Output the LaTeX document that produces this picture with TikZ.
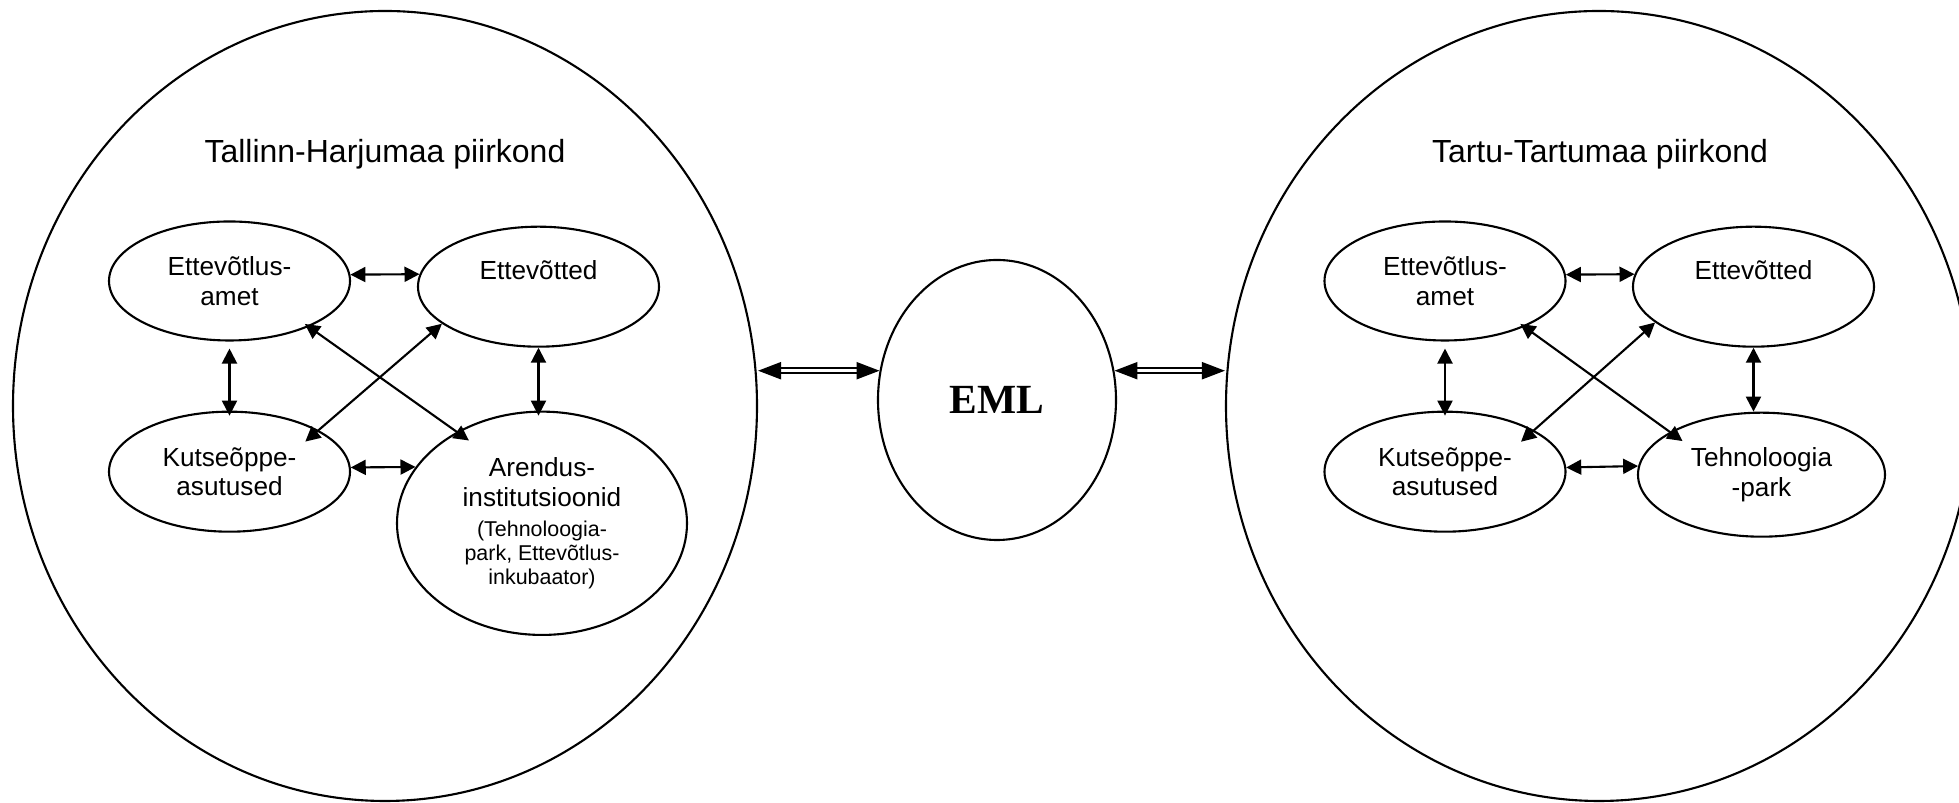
\documentclass[tikz,border=0pt]{standalone}
\usepackage{fontspec}
\setmainfont{Liberation Sans}
\newfontfamily\emlfont{Liberation Serif}
\usetikzlibrary{shapes.geometric,arrows.meta}
\newcommand{\orgnode}[4][]{\node[ellipse,draw,line width=0.6pt,inner sep=0pt,align=center,minimum width=2.41cm,minimum height=1.2cm,font=\fontsize{7.45}{8.5}\selectfont,#1] at (#2) (#3) {#4}}
\newcommand{\smalltext}{\fontsize{6.1}{7}\selectfont}

\begin{document}
\begin{tikzpicture}[
	biarrow/.style={{Triangle[length=1.5mm,width=1.5mm]}-{Triangle[length=1.5mm,width=1.5mm]},line width=0.6pt},
	dblarrow/.style={{Triangle[length=2.3mm,width=1.7mm]}-{Triangle[length=2.3mm,width=1.7mm]},line width=0.6pt,double,double distance=0.9pt},
	region/.style={ellipse,draw,line width=0.6pt,inner sep=0pt,minimum width=7.44cm,minimum height=7.9cm},
	title/.style={font=\fontsize{9.1}{11}\selectfont}]
	\useasboundingbox (0,0) rectangle (19.59,8.03);
	\clip (0,0) rectangle (19.59,8.03);
	
	\node[region] at (3.85,3.97) (tallinn) {};
	\node[region,minimum width=7.46cm] at (15.99,3.97) (tartu) {};
	\node[ellipse,draw,line width=0.6pt,inner sep=0pt,minimum width=2.38cm,minimum height=2.8cm,font=\emlfont\bfseries\fontsize{11.8}{14}\selectfont] at (9.97,4.03) (eml) {EML};
	
	\node[title] at (3.85,6.49) (tallinntitle) {Tallinn-Harjumaa piirkond};
	\node[title] at (16.00,6.49) (tartutitle) {Tartu-Tartumaa piirkond};
	
	\orgnode[minimum height=1.19cm]{2.295,5.22}{amet1}{Ettevõtlus-\\amet};
	\orgnode{5.385,5.163}{firm1}{Ettevõtted\\[1pt]~};
	\orgnode{2.295,3.313}{kool1}{Kutseõppe-\\asutused};
	\orgnode[minimum width=2.9cm,minimum height=2.233cm]{5.42,2.797}{arendus1}{Arendus-\\institutsioonid\\{\smalltext (Tehnoloogia-}\\[-1.7pt]{\smalltext park, Ettevõtlus-}\\[-1.7pt]{\smalltext inkubaator)}};
	
	\orgnode[minimum height=1.19cm]{14.45,5.22}{amet2}{Ettevõtlus-\\amet};
	\orgnode{17.535,5.163}{firm2}{Ettevõtted\\[1pt]~};
	\orgnode{14.45,3.313}{kool2}{Kutseõppe-\\asutused};
	\orgnode[minimum width=2.47cm,minimum height=1.24cm]{17.615,3.283}{park2}{Tehnoloogia\\-park};
	
	\draw[dblarrow] (tallinn.east |- eml.166) -- (eml.166);
	\draw[dblarrow] (eml.14) -- (tartu.west |- eml.14);
	
	\draw[biarrow] (amet1.3) -- (firm1.174);
	\draw[biarrow] (kool1.2) -- (arendus1.156);
	\draw[biarrow,shorten <=0.7mm,shorten >=-0.5mm] (amet1.south) -- (kool1.north);
	\draw[biarrow,shorten >=-0.5mm] (firm1.south) -- (firm1.south |- arendus1.north);
	\draw[biarrow,shorten <=-0.5mm,shorten >=-1.5mm] (amet1.330) -- (arendus1.133);
	\draw[biarrow,shorten >=-1.75mm] (firm1.201) -- (kool1.25);
	
	\draw[biarrow] (amet2.3) -- (firm2.174);
	\draw[biarrow] (kool2.2) -- (park2.176);
	\draw[biarrow,shorten <=0.7mm,shorten >=-0.5mm] (amet2.south) -- (kool2.north);
	\draw[biarrow] (firm2.south) -- (firm2.south |- park2.north);
	\draw[biarrow,shorten <=-0.5mm,shorten >=-1.55mm] (amet2.330) -- (park2.155);
	\draw[biarrow,shorten >=-1.75mm] (firm2.200) -- (kool2.25);
\end{tikzpicture}
\end{document}
